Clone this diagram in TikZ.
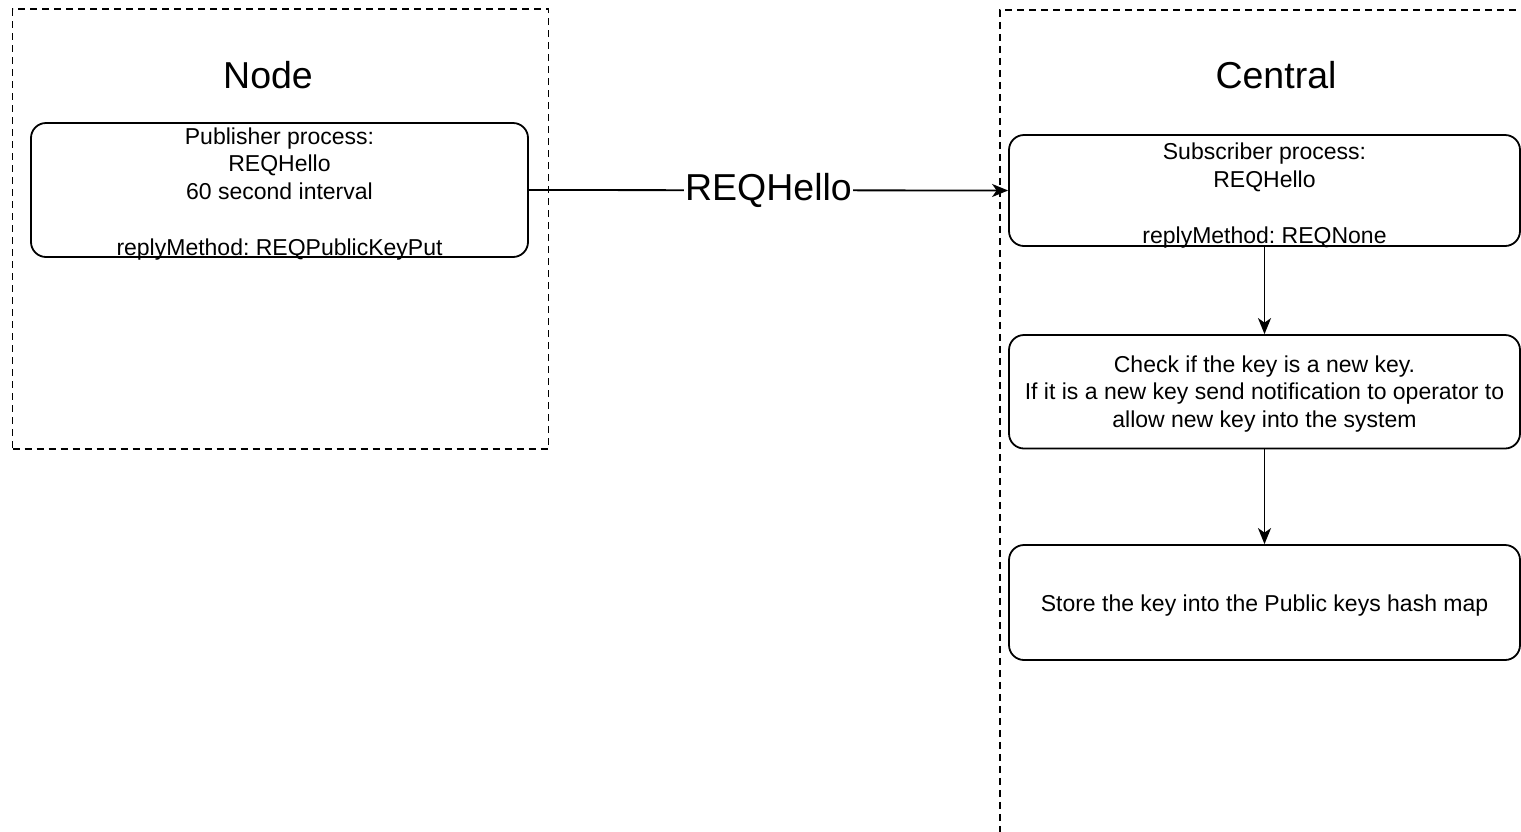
\documentclass[tikz,border=0pt]{standalone}
\usepackage{fontspec}
\setmainfont{Liberation Sans}
\usetikzlibrary{arrows.meta}
\frenchspacing
\newcommand{\nodepthline}[1]{\raisebox{0pt}[\height][0pt]{#1}}
\begin{document}
\frenchspacing
\begin{tikzpicture}[x=1pt,y=-1pt,
  procbox/.style={draw, line width=1.8pt, rounded corners=15pt, align=center, inner sep=0pt,
    font=\fontsize{23}{27.75}\selectfont},
  groupbox/.style={draw, line width=1.6pt, dash pattern=on 7pt off 5pt},
  grouptitle/.style={font=\fontsize{37.5}{45}\selectfont, anchor=base, inner sep=0pt},
  flow/.style={-{Stealth[length=16pt,width=13pt,inset=4.5pt]}, line width=1.8pt},
  flowlabel/.style={fill=white, inner sep=1pt, font=\fontsize{37.5}{45}\selectfont}]
\useasboundingbox (0,0) rectangle (1521,831);
\begin{scope}
\clip (0,0) rectangle (1521,831);
% group frames
\node[groupbox, minimum width=536pt, minimum height=440pt] (nodegrp) at (280.5,229) {};
\node[groupbox, minimum width=600pt, minimum height=900pt, anchor=north west] (centralgrp) at (999,9) {};
% titles
\node[grouptitle] (nodetitle) at (268,88) {Node};
\node[grouptitle] (centraltitle) at (1276,88) {Central};
% process boxes
\node[procbox, minimum width=497pt, minimum height=134pt] (pub) at (279.5,190)
  {\rule{0pt}{19pt}Publisher process:\\REQHello\\60 second interval\\[27.75pt]\nodepthline{replyMethod: REQPublicKeyPut}};
\node[procbox, minimum width=511pt, minimum height=111pt] (sub) at (1264.5,190.5)
  {\rule{0pt}{22pt}Subscriber process:\\REQHello\\[27.75pt]\nodepthline{replyMethod: REQNone}};
\node[procbox, minimum width=511pt, minimum height=113.5pt] (check) at (1264.5,391.75)
  {\rule{0pt}{21pt}Check if the key is a new key.\\If it is a new key send notification to operator to\\allow new key into the system};
\node[procbox, minimum width=511pt, minimum height=115pt] (store) at (1264.5,602.5)
  {\rule{0pt}{22pt}Store the key into the Public keys hash map};
% connectors
\draw[flow] (pub.east) -- node[flowlabel] (hellolabel) {REQHello} (sub.west);
\draw[flow] (sub.south) -- (check.north);
\draw[flow] (check.south) -- (store.north);
\end{scope}
\end{tikzpicture}
\end{document}
